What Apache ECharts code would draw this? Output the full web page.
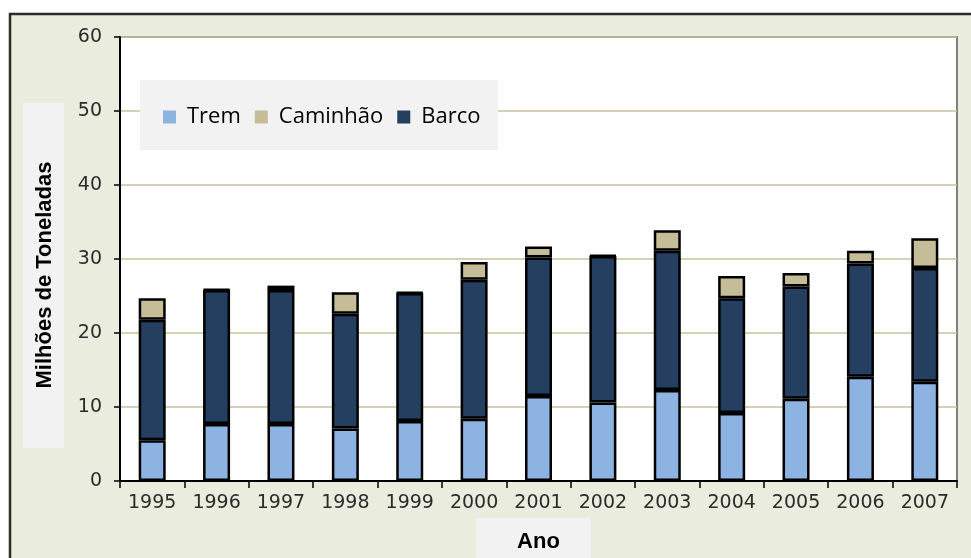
<!DOCTYPE html>
<html>
<head>
<meta charset="utf-8">
<style>
html,body{margin:0;padding:0;background:#fff;}
#main{width:971px;height:558px;}
</style>
</head>
<body>
<div id="main"></div>
<script src="https://cdn.jsdelivr.net/npm/echarts@6/dist/echarts.min.js"></script>
<script>
// dados (milhões de toneladas)
var anos = ['1995','1996','1997','1998','1999','2000','2001','2002','2003','2004','2005','2006','2007'];
var trem = [5.5, 7.7, 7.7, 7.1, 8.1, 8.4, 11.5, 10.6, 12.3, 9.2, 11.1, 14.1, 13.4];
var barco = [16.3, 18.1, 18.1, 15.5, 17.3, 18.8, 18.7, 19.8, 18.8, 15.5, 15.2, 15.3, 15.4];
var caminhao = [2.9, 0.1, 0.6, 2.9, 0.1, 2.4, 1.5, 0.1, 2.8, 3.0, 1.8, 1.7, 4.0];
var legenda = ['Trem', 'Caminhão', 'Barco'];

var cores = {Trem:'#8db3e2', 'Caminhão':'#c4bd97', Barco:'#243f60'};

var myChart = echarts.init(document.getElementById('main'));

function serie(nome, dados){
    return {
        name: nome,
        type: 'bar',
        stack: 'total',
        barWidth: 27,
        data: dados,
        itemStyle: {color: cores[nome], borderColor: '#000', borderWidth: 2.5}
    };
}

var option = {
    animation: false,
    backgroundColor: '#fff',
    graphic: [
        // moldura externa
        {type:'rect', z:-10, shape:{x:10, y:14, width:990, height:560},
         style:{fill:'#eaedde', stroke:'#2a2a2a', lineWidth:2.5}},
        // caixa do titulo do eixo Y
        {type:'rect', z:-5, shape:{x:23, y:103, width:41, height:345}, style:{fill:'#f2f2f2'}},
        // caixa do titulo do eixo X
        {type:'rect', z:-5, shape:{x:476, y:518, width:115, height:45}, style:{fill:'#f2f2f2'}},
        // caixa da legenda
        {type:'rect', z:1, shape:{x:140, y:80, width:358, height:70}, style:{fill:'#f2f2f2'}}
    ],
    legend: {
        data: legenda,
        left: 158,
        top: 101,
        z: 5,
        icon: 'rect',
        itemWidth: 13,
        itemHeight: 13,
        itemGap: 14,
        itemStyle: {borderWidth: 0},
        textStyle: {fontFamily:'Open Sans', fontSize: 22, color:'#000', padding:[0,0,0,6]}
    },
    grid: {
        left: 120, right: 14, top: 37, bottom: 70,
        show: true, backgroundColor: '#fff', borderColor: '#808080', borderWidth: 2
    },
    xAxis: {
        type: 'category',
        data: anos,
        name: 'Ano',
        nameLocation: 'middle',
        nameGap: 50,
        nameTextStyle: {fontFamily:'Liberation Sans', fontWeight:'bold', fontSize: 22, color:'#000'},
        axisLine: {lineStyle: {color:'#000', width: 2}},
        axisTick: {show: true, length: 7, lineStyle: {color:'#000', width: 1.5}},
        axisLabel: {fontFamily:'DejaVu Sans', fontSize: 19, color:'#2b2b2b', margin: 13}
    },
    yAxis: {
        type: 'value',
        min: 0, max: 60, interval: 10,
        name: 'Milhões de Toneladas',
        nameLocation: 'middle',
        nameGap: 64,
        nameTextStyle: {fontFamily:'Liberation Sans', fontWeight:'bold', fontSize: 22, color:'#000', padding:[0,32,0,0]},
        axisLine: {show: true, lineStyle: {color:'#000', width: 2}},
        axisTick: {show: true, length: 6, lineStyle: {color:'#000', width: 1.5}},
        axisLabel: {fontFamily:'DejaVu Sans', fontSize: 19, color:'#2b2b2b', margin: 18},
        splitLine: {lineStyle: {color:'#c8c09c', width: 1.5}}
    },
    series: [
        serie('Trem', trem),
        serie('Barco', barco),
        serie('Caminhão', caminhao)
    ]
};

myChart.setOption(option);
</script>
</body>
</html>
